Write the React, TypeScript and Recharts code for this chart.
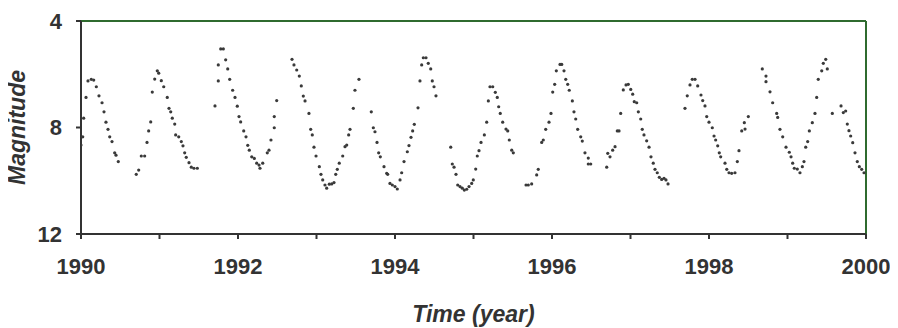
import React from "react";
import {
  ScatterChart,
  Scatter,
  XAxis,
  YAxis,
  ReferenceLine,
  Label,
} from "recharts";

// [year, magnitude] pairs, one array per observing season
type Obs = [number, number];

const season1990: Obs[] = [
  [1990.0, 8.66], [1990.022, 8.35], [1990.034, 7.65], [1990.064, 6.87], [1990.089, 6.25],
  [1990.131, 6.19], [1990.162, 6.22], [1990.195, 6.47], [1990.229, 6.81], [1990.268, 7.07],
  [1990.293, 7.41], [1990.318, 7.8], [1990.344, 8.07], [1990.366, 8.35], [1990.395, 8.53],
  [1990.429, 8.95], [1990.446, 9.04], [1990.475, 9.28],
];

const season1991: Obs[] = [
  [1990.704, 9.76], [1990.735, 9.6], [1990.768, 9.07], [1990.811, 9.07], [1990.841, 8.56],
  [1990.862, 8.13], [1990.888, 7.79], [1990.908, 6.67], [1990.939, 6.18], [1990.972, 5.87],
  [1990.99, 5.96], [1991.023, 6.24], [1991.054, 6.47], [1991.099, 6.87], [1991.121, 7.28],
  [1991.143, 7.41], [1991.163, 7.65], [1991.194, 7.87], [1991.206, 8.28], [1991.245, 8.35],
  [1991.278, 8.53], [1991.299, 8.69], [1991.321, 8.95], [1991.341, 9.12], [1991.376, 9.32],
  [1991.405, 9.49], [1991.439, 9.53], [1991.482, 9.53],
];

const season1992: Obs[] = [
  [1991.707, 7.19], [1991.749, 6.25], [1991.749, 5.65], [1991.78, 5.05], [1991.813, 5.05],
  [1991.843, 5.46], [1991.869, 5.8], [1991.894, 6.19], [1991.932, 6.6], [1991.962, 6.87],
  [1991.991, 7.2], [1992.013, 7.59], [1992.034, 7.79], [1992.073, 8.13], [1992.102, 8.35],
  [1992.124, 8.67], [1992.144, 8.85], [1992.175, 9.1], [1992.208, 9.16], [1992.238, 9.34],
  [1992.268, 9.41], [1992.28, 9.53], [1992.315, 9.34], [1992.373, 8.95], [1992.395, 8.85],
  [1992.42, 8.47], [1992.462, 8.01], [1992.462, 7.59], [1992.493, 6.99],
];

const season1993: Obs[] = [
  [1992.688, 5.44], [1992.713, 5.65], [1992.748, 5.84], [1992.781, 6.07], [1992.806, 6.44],
  [1992.832, 6.82], [1992.854, 7.0], [1992.904, 7.47], [1992.926, 8.07], [1992.946, 8.28],
  [1992.968, 8.74], [1992.994, 9.07], [1993.036, 9.47], [1993.057, 9.76], [1993.079, 9.97],
  [1993.108, 10.16], [1993.13, 10.28], [1993.163, 10.13], [1993.194, 10.12], [1993.223, 10.07],
  [1993.245, 9.76], [1993.265, 9.57], [1993.29, 9.34], [1993.334, 9.07], [1993.363, 8.72],
  [1993.385, 8.66], [1993.41, 8.28], [1993.427, 8.07], [1993.469, 7.28], [1993.49, 6.6],
  [1993.541, 6.19],
];

const season1994: Obs[] = [
  [1993.698, 7.41], [1993.724, 8.01], [1993.745, 8.16], [1993.771, 8.56], [1993.792, 8.95],
  [1993.813, 9.1], [1993.86, 9.47], [1993.894, 9.72], [1993.907, 9.76], [1993.936, 10.1],
  [1993.966, 10.16], [1994.0, 10.22], [1994.029, 10.31], [1994.064, 9.97], [1994.085, 9.7],
  [1994.115, 9.28], [1994.157, 8.91], [1994.178, 8.68], [1994.204, 8.37], [1994.225, 8.13],
  [1994.246, 7.88], [1994.293, 7.26], [1994.318, 6.25], [1994.34, 5.65], [1994.361, 5.38],
  [1994.395, 5.38], [1994.424, 5.59], [1994.455, 5.8], [1994.475, 6.25], [1994.497, 6.47],
  [1994.522, 6.81],
];

const season1995: Obs[] = [
  [1994.71, 8.74], [1994.73, 9.37], [1994.752, 9.49], [1994.777, 9.76], [1994.799, 10.16],
  [1994.828, 10.22], [1994.857, 10.28], [1994.883, 10.35], [1994.913, 10.32], [1994.943, 10.22],
  [1994.977, 10.1], [1994.997, 9.97], [1995.028, 9.56], [1995.048, 9.07], [1995.07, 8.87],
  [1995.096, 8.56], [1995.138, 8.28], [1995.168, 7.8], [1995.189, 7.0], [1995.21, 6.47],
  [1995.245, 6.47], [1995.278, 6.68], [1995.303, 6.87], [1995.321, 7.22], [1995.341, 7.47],
  [1995.372, 7.8], [1995.414, 8.06], [1995.436, 8.13], [1995.456, 8.47], [1995.487, 8.85],
  [1995.507, 8.95],
];

const season1996: Obs[] = [
  [1995.669, 10.16], [1995.698, 10.16], [1995.741, 10.12], [1995.805, 9.78], [1995.825, 9.57],
  [1995.869, 8.56], [1995.889, 8.47], [1995.92, 8.07], [1995.962, 7.8], [1995.987, 7.47],
  [1996.009, 6.67], [1996.034, 6.38], [1996.055, 5.87], [1996.102, 5.63], [1996.124, 5.63],
  [1996.153, 5.87], [1996.175, 6.19], [1996.2, 6.38], [1996.22, 6.6], [1996.259, 7.0],
  [1996.28, 7.41], [1996.302, 7.68], [1996.327, 8.07], [1996.366, 8.35], [1996.386, 8.51],
  [1996.42, 8.95], [1996.462, 9.15], [1996.462, 9.37], [1996.493, 9.37],
];

const season1997: Obs[] = [
  [1996.697, 9.49], [1996.71, 8.97], [1996.739, 9.1], [1996.773, 8.85], [1996.803, 8.72],
  [1996.832, 8.13], [1996.854, 8.13], [1996.875, 7.47], [1996.908, 6.59], [1996.943, 6.4],
  [1996.972, 6.38], [1997.003, 6.57], [1997.028, 6.75], [1997.048, 7.03], [1997.079, 7.07],
  [1997.1, 7.41], [1997.13, 7.68], [1997.15, 8.07], [1997.172, 8.28], [1997.206, 8.5],
  [1997.236, 8.74], [1997.261, 9.1], [1997.29, 9.34], [1997.312, 9.57], [1997.341, 9.7],
  [1997.367, 9.87], [1997.397, 9.95], [1997.427, 9.91], [1997.452, 9.97], [1997.478, 10.12],
];

const season1998: Obs[] = [
  [1997.694, 7.28], [1997.723, 6.81], [1997.758, 6.4], [1997.787, 6.19], [1997.822, 6.19],
  [1997.856, 6.44], [1997.898, 6.78], [1997.92, 6.99], [1997.949, 7.19], [1997.971, 7.59],
  [1998.0, 7.8], [1998.042, 8.01], [1998.064, 8.32], [1998.085, 8.47], [1998.111, 8.69],
  [1998.131, 8.95], [1998.149, 9.1], [1998.204, 9.34], [1998.226, 9.57], [1998.255, 9.7],
  [1998.289, 9.72], [1998.331, 9.7], [1998.361, 9.28], [1998.382, 8.87], [1998.417, 8.13],
  [1998.45, 7.82], [1998.459, 8.06], [1998.501, 7.59],
];

const season1999: Obs[] = [
  [1998.679, 5.8], [1998.726, 6.07], [1998.726, 6.28], [1998.777, 6.66], [1998.811, 7.07],
  [1998.862, 7.47], [1998.875, 7.62], [1998.904, 8.07], [1998.939, 8.35], [1998.981, 8.74],
  [1999.023, 8.93], [1999.045, 9.1], [1999.066, 9.34], [1999.087, 9.53], [1999.125, 9.56],
  [1999.159, 9.7], [1999.189, 9.47], [1999.21, 9.28], [1999.232, 8.74], [1999.257, 8.53],
  [1999.278, 8.13], [1999.316, 7.82], [1999.35, 7.47], [1999.372, 6.87], [1999.392, 6.19],
  [1999.436, 5.87], [1999.456, 5.59], [1999.487, 5.44], [1999.507, 5.8], [1999.571, 7.47],
  [1999.682, 7.19], [1999.711, 7.44], [1999.741, 7.38], [1999.762, 7.87], [1999.783, 8.12],
  [1999.805, 8.32], [1999.831, 8.57], [1999.86, 8.95], [1999.889, 9.28], [1999.915, 9.47],
  [1999.945, 9.57], [1999.975, 9.7],
];

const seasons = [
  season1990, season1991, season1992, season1993, season1994,
  season1995, season1996, season1997, season1998, season1999,
];

const points = seasons.flat().map(([year, mag]) => ({ year, mag }));

const yearTicks = [1990, 1991, 1992, 1993, 1994, 1995, 1996, 1997, 1998, 1999, 2000];
const magTicks = [4, 8, 12];

const FONT = "'Liberation Sans', Arial, sans-serif";
const AXIS = "#333";
const FRAME = "#2f6b2f";

const tickStyle = { fill: "#333", fontSize: 22, fontWeight: 700, fontFamily: FONT };
const titleStyle = {
  fill: "#333",
  fontSize: 23,
  fontWeight: 700,
  fontStyle: "italic",
  fontFamily: FONT,
};

const Dot = (props: any) => (
  <circle cx={props.cx} cy={props.cy} r={1.6} fill="#3a3a3a" />
);

export default function App() {
  // pull the chart over the body margin so the y title has room at the left edge
  return (
    <div style={{ margin: "-8px 0 0 -8px", width: 898, height: 328 }}>
      <ScatterChart
        width={898}
        height={328}
        margin={{ top: 21, right: 32, bottom: 0, left: 0 }}
      >
        <XAxis
          type="number"
          dataKey="year"
          domain={[1990, 2000]}
          allowDataOverflow
          ticks={yearTicks}
          tickFormatter={(v: number) => (v % 2 === 0 ? String(v) : "")}
          height={94}
          tickSize={5}
          tickMargin={19}
          tick={tickStyle}
          stroke={AXIS}
          strokeWidth={2}
        >
          <Label value="Time (year)" position="insideBottom" offset={6} style={titleStyle} />
        </XAxis>
        <YAxis
          type="number"
          dataKey="mag"
          domain={[4, 12]}
          reversed
          allowDataOverflow
          ticks={magTicks}
          width={81}
          tickSize={5}
          tickMargin={14}
          tick={tickStyle}
          stroke={AXIS}
          strokeWidth={2}
        >
          <Label
            value="Magnitude"
            position="insideLeft"
            angle={-90}
            offset={17}
            style={{ ...titleStyle, textAnchor: "middle" }}
          />
        </YAxis>
        <ReferenceLine y={4} stroke={FRAME} strokeWidth={2} />
        <ReferenceLine x={2000} stroke={FRAME} strokeWidth={2} />
        <Scatter data={points} shape={Dot} isAnimationActive={false} />
      </ScatterChart>
    </div>
  );
}
